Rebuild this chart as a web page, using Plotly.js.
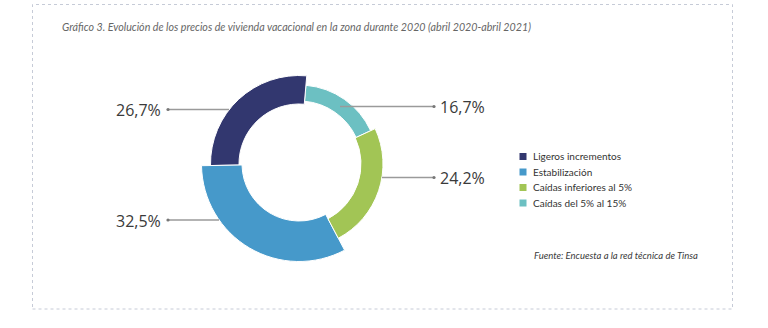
<!DOCTYPE html>
<html>
<head>
<meta charset="utf-8">
<script src="https://cdn.plot.ly/plotly-3.0.1.min.js"></script>
<style>
  html, body { margin: 0; padding: 0; background: #ffffff; }
  #chart { width: 768px; height: 328px; }
</style>
</head>
<body>
<div id="chart"></div>
<script>
// ---- data ----
const categories = ['Ligeros incrementos', 'Estabilización', 'Caídas inferiores al 5%', 'Caídas del 5% al 15%'];
const shares = [26.7, 32.5, 24.2, 16.7];
const sliceColors = ['#32376f', '#4699ca', '#a2c555', '#6cc0c2'];
const titleText = 'Gráfico 3. Evolución de los precios de vivienda vacacional en la zona durante 2020 (abril 2020-abril 2021)';
const sourceText = 'Fuente: Encuesta a la red técnica de Tinsa';

// ---- geometry helpers ----
const W = 768, H = 328;
const CX = 299, CY = 164;
const px = x => x / W;
const py = y => 1 - y / H;
// ring radii per slice [outer, inner] (slices of the reference have different thickness)
const ringSizes = [[88.5, 60], [97.5, 57], [84, 62], [79, 63]];

function domainFor(r) {
  return { x: [px(CX - r), px(CX + r)], y: [py(CY + r), py(CY - r)] };
}

function pieTrace(outer, inner, only, showLegend) {
  return {
    type: 'pie',
    labels: categories,
    values: shares,
    sort: false,
    direction: 'counterclockwise',
    rotation: -91,
    hole: inner / outer,
    domain: domainFor(outer),
    textinfo: 'none',
    hoverinfo: only === null ? 'label+percent' : 'skip',
    showlegend: showLegend,
    marker: {
      colors: sliceColors.map((c, i) => (only === null || i === only) ? c : 'rgba(0,0,0,0)'),
      line: { color: '#ffffff', width: sliceColors.map((c, i) => (only === null || i === only) ? 1 : 0) }
    }
  };
}

const data = [
  pieTrace(ringSizes[3][0], ringSizes[3][1], null, true),
  pieTrace(ringSizes[0][0], ringSizes[0][1], 0, false),
  pieTrace(ringSizes[1][0], ringSizes[1][1], 1, false),
  pieTrace(ringSizes[2][0], ringSizes[2][1], 2, false)
];

const fmt = v => v.toFixed(1).replace('.', ',') + '%';

// label placement: [lineX0, lineX1, lineY, dotX, textX, anchor]
const labelPlaces = [
  [168, 229, 109.5, 168, 163, 'right'],
  [168, 219, 220, 168, 163, 'right'],
  [382, 434, 177.5, 434, 438, 'left'],
  [340, 434, 106.5, 434, 438, 'left']
];

const shapes = [{
  type: 'rect', xref: 'paper', yref: 'paper',
  x0: px(32.5), x1: px(732.5), y0: py(309), y1: py(4.5),
  line: { color: '#c6cbd7', width: 1, dash: 'dot' }, layer: 'below'
}];
const annotations = [];
labelPlaces.forEach((p, i) => {
  shapes.push({
    type: 'line', xref: 'paper', yref: 'paper', layer: 'above',
    x0: px(p[0]), x1: px(p[1]), y0: py(p[2]), y1: py(p[2]),
    line: { color: '#9a9a9a', width: 1.3 }
  });
  shapes.push({
    type: 'circle', xref: 'paper', yref: 'paper', layer: 'above',
    x0: px(p[3] - 1.6), x1: px(p[3] + 1.6), y0: py(p[2] + 1.6), y1: py(p[2] - 1.6),
    fillcolor: '#777777', line: { width: 0 }
  });
  annotations.push({
    xref: 'paper', yref: 'paper', x: px(p[4]), y: py(p[2] + 0.5),
    xanchor: p[5], yanchor: 'middle', showarrow: false,
    text: fmt(shares[i]),
    font: { family: 'Open Sans, sans-serif', size: 16, color: '#3a3a3a' }
  });
});
annotations.push({
  xref: 'paper', yref: 'paper', x: px(532), y: py(255),
  xanchor: 'left', yanchor: 'middle', showarrow: false,
  text: sourceText,
  font: { family: 'Lato, sans-serif', size: 9.5, color: '#3a3a3a', style: 'italic' }
});

const layout = {
  width: W, height: H,
  margin: { l: 0, r: 0, t: 0, b: 0, pad: 0 },
  paper_bgcolor: '#ffffff',
  plot_bgcolor: '#ffffff',
  title: {
    text: titleText, x: px(62), xanchor: 'left', xref: 'container',
    y: py(27), yanchor: 'middle', yref: 'container',
    font: { family: 'Liberation Sans Narrow, Arial Narrow, Lato, sans-serif', size: 10.7, color: '#666666', style: 'italic' }
  },
  showlegend: true,
  legend: {
    x: px(500), xanchor: 'left', y: py(142), yanchor: 'top',
    bgcolor: 'rgba(0,0,0,0)', borderwidth: 0,
    font: { family: 'Lato, sans-serif', size: 10, color: '#333333' },
    traceorder: 'normal'
  },
  shapes: shapes,
  annotations: annotations
};

Plotly.newPlot('chart', data, layout, { displayModeBar: false, staticPlot: true }).then(gd => {
  // tighten legend to the reference's compact look (smaller swatches, 15.5px rows)
  const items = gd.querySelectorAll('.legend .traces');
  let y0 = null;
  items.forEach((g, i) => {
    const m = /translate\(([-\d.]+)[ ,]+([-\d.]+)\)/.exec(g.getAttribute('transform') || '');
    if (!m) return;
    if (y0 === null) y0 = parseFloat(m[2]);
    g.setAttribute('transform', 'translate(' + m[1] + ',' + (y0 + i * 15.5) + ')');
    g.querySelectorAll('path.legendpie').forEach(p => {
      p.setAttribute('d', 'M4,4H-4V-4H4Z');
      p.setAttribute('transform', 'translate(23,0)');
    });
    g.querySelectorAll('text.legendtext').forEach(t => t.setAttribute('x', 33));
  });
});
</script>
</body>
</html>
